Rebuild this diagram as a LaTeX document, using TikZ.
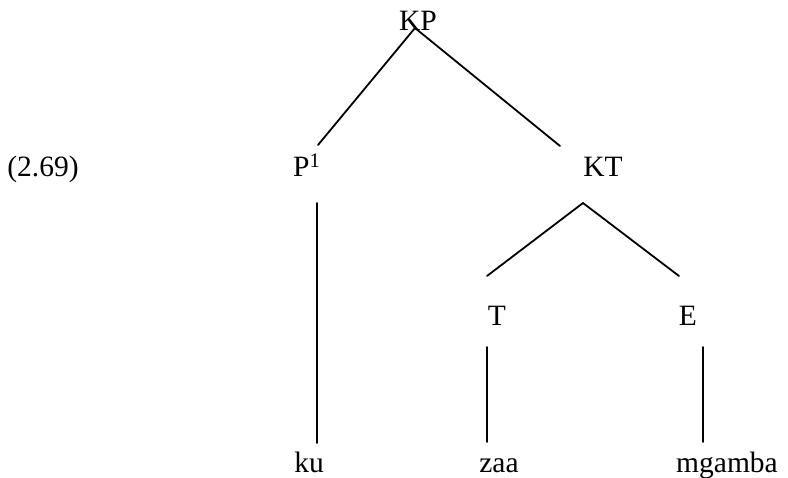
\documentclass[tikz,border=0pt]{standalone}
\usepackage{fontspec}
\setmainfont{Liberation Serif}
\begin{document}
\begin{tikzpicture}[x=1pt,y=-1pt,
  lab/.style={inner sep=0pt,anchor=base,font=\fontsize{29.5}{35}\selectfont},
  edge/.style={line width=1.8pt,line cap=round}]
\useasboundingbox (0,0) rectangle (788,478);
% labels
\node[lab] (ex) at (43,177) {(2.69)};
\node[lab] (KP) at (418,31) {KP};
\node[lab,anchor=base west] (P1) at (293,177) {P\textsuperscript{1}};
\node[lab] (KT) at (603,177) {KT};
\node[lab] (T) at (497,326) {T};
\node[lab] (E) at (688,326) {E};
\node[lab] (ku) at (309,472) {ku};
\node[lab] (zaa) at (499,472) {zaa};
\node[lab] (mgamba) at (727,472) {mgamba};
% connector ends
\coordinate (kpfoot) at (415,28);
\coordinate (p1top) at (318,145);
\coordinate (kttop) at (560,146);
\coordinate (p1foot) at (317,203);
\coordinate (kutop) at (317,443);
\coordinate (ktfoot) at (583,203);
\coordinate (ttop) at (487,276);
\coordinate (etop) at (679,276);
\coordinate (tfoot) at (487,347);
\coordinate (zaatop) at (487,442);
\coordinate (efoot) at (703,347);
\coordinate (mgtop) at (703,442);
% connectors
\draw[edge] (kpfoot) -- (p1top);
\draw[edge] (kpfoot) -- (kttop);
\draw[edge] (p1foot) -- (kutop);
\draw[edge] (ktfoot) -- (ttop);
\draw[edge] (ktfoot) -- (etop);
\draw[edge] (tfoot) -- (zaatop);
\draw[edge] (efoot) -- (mgtop);
\end{tikzpicture}
\end{document}
